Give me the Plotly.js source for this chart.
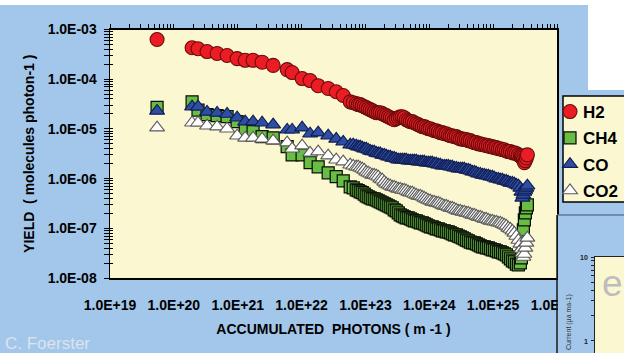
<!DOCTYPE html>
<html><head><meta charset="utf-8">
<script src="https://cdn.plot.ly/plotly-3.0.1.min.js"></script>
<style>html,body{margin:0;padding:0;background:#fff;}#chart{width:624px;height:353px;}</style>
</head><body><div id="chart"></div>
<script>
// accumulated photons (m-1), shared by all four gases
const photons = [5.46e19,1.93e20,2.39e20,3.31e20,4.75e20,6.82e20,9.79e20,1.31e21,1.74e21,2.41e21,
  3.59e21,5.95e21,7.12e21,1.02e22,1.36e22,1.82e22,2.61e22,3.49e22,4.49e22,5.78e22,
  6.44e22,7.18e22,7.71e22,8.29e22,8.91e22,9.58e22,1.029e23,1.106e23,1.189e23,1.278e23,
  1.373e23,1.476e23,1.587e23,1.706e23,1.834e23,1.971e23,2.118e23,2.277e23,2.447e23,2.631e23,
  2.828e23,3.039e23,3.267e23,3.511e23,3.774e23,4.057e23,4.360e23,4.687e23,5.037e23,5.414e23,
  5.82e23,6.26e23,6.72e23,7.23e23,7.77e23,8.35e23,8.97e23,9.64e23,1.037e24,1.114e24,
  1.198e24,1.287e24,1.384e24,1.487e24,1.599e24,1.718e24,1.847e24,1.985e24,2.134e24,2.293e24,
  2.465e24,2.650e24,2.848e24,3.061e24,3.290e24,3.537e24,3.801e24,4.086e24,4.392e24,4.720e24,
  5.074e24,5.453e24,5.861e24,6.30e24,6.77e24,7.28e24,7.82e24,8.41e24,9.04e24,9.72e24,
  1.044e25,1.123e25,1.207e25,1.297e25,1.394e25,1.498e25,1.610e25,1.731e25,1.861e25,2.000e25,
  2.149e25,2.310e25,2.483e25,2.669e25,
  2.767e25,2.869e25,2.975e25,3.083e25,3.197e25,3.314e25,3.436e25];

const yieldH2 = [6.3e-4,4.3e-4,4.1e-4,3.6e-4,3.3e-4,3.0e-4,2.6e-4,2.4e-4,2.4e-4,2.2e-4,
  1.9e-4,1.56e-4,1.36e-4,1.03e-4,9.4e-5,7.4e-5,6.5e-5,5.6e-5,4.7e-5,3.5e-5,
  3.37e-5,3.22e-5,3.08e-5,3.08e-5,2.93e-5,2.80e-5,2.68e-5,2.55e-5,2.44e-5,2.33e-5,
  2.22e-5,2.12e-5,2.12e-5,2.12e-5,2.03e-5,1.93e-5,1.85e-5,1.76e-5,1.68e-5,1.61e-5,
  1.53e-5,1.61e-5,1.68e-5,1.76e-5,1.76e-5,1.68e-5,1.53e-5,1.46e-5,1.40e-5,1.40e-5,
  1.33e-5,1.27e-5,1.22e-5,1.16e-5,1.11e-5,1.11e-5,1.06e-5,1.01e-5,1.01e-5,9.6e-6,
  9.2e-6,9.2e-6,8.8e-6,8.4e-6,8.4e-6,8.0e-6,8.0e-6,7.6e-6,7.3e-6,7.3e-6,
  7.0e-6,7.0e-6,6.6e-6,6.3e-6,6.3e-6,6.1e-6,6.1e-6,5.8e-6,5.8e-6,5.5e-6,
  5.3e-6,5.3e-6,5.0e-6,5.0e-6,4.8e-6,4.8e-6,4.6e-6,4.6e-6,4.4e-6,4.4e-6,
  4.2e-6,4.2e-6,4.0e-6,4.0e-6,3.8e-6,3.8e-6,3.6e-6,3.5e-6,3.5e-6,3.3e-6,
  3.3e-6,3.2e-6,3.0e-6,2.9e-6,
  2.75e-6,2.6e-6,2.4e-6,2.1e-6,2.3e-6,2.6e-6,3.0e-6];

const yieldCH4 = [2.7e-5,3.5e-5,2.4e-5,1.93e-5,1.85e-5,1.76e-5,1.40e-5,9.6e-6,8.8e-6,7.0e-6,
  6.6e-6,4.4e-6,3.0e-6,3.0e-6,2.1e-6,1.73e-6,1.31e-6,1.09e-6,9.0e-7,6.8e-7,
  6.5e-7,5.9e-7,5.7e-7,5.4e-7,5.2e-7,4.9e-7,4.5e-7,4.3e-7,4.1e-7,3.9e-7,
  3.9e-7,3.74e-7,3.57e-7,3.4e-7,3.25e-7,3.1e-7,2.96e-7,2.83e-7,2.7e-7,2.58e-7,
  2.35e-7,2.24e-7,2.04e-7,1.86e-7,1.78e-7,1.70e-7,1.62e-7,1.62e-7,1.55e-7,1.48e-7,
  1.41e-7,1.41e-7,1.35e-7,1.29e-7,1.29e-7,1.23e-7,1.17e-7,1.12e-7,1.07e-7,1.07e-7,
  1.02e-7,9.7e-8,9.7e-8,9.3e-8,8.9e-8,8.9e-8,8.5e-8,8.5e-8,8.1e-8,7.7e-8,
  7.4e-8,7.4e-8,7.0e-8,6.7e-8,6.4e-8,6.1e-8,5.8e-8,5.6e-8,5.3e-8,5.1e-8,
  5.1e-8,4.85e-8,4.63e-8,4.42e-8,4.22e-8,4.22e-8,4.03e-8,4.03e-8,3.84e-8,3.67e-8,
  3.67e-8,3.5e-8,3.34e-8,3.34e-8,3.19e-8,3.05e-8,2.91e-8,2.65e-8,2.42e-8,2.2e-8,
  2.1e-8,1.91e-8,1.83e-8,2.01e-8,
  2.53e-8,4.63e-8,9.3e-8,1.48e-7,2.04e-7,2.58e-7,2.96e-7];

const yieldCO = [2.3e-5,2.8e-5,2.8e-5,2.2e-5,2.1e-5,2.0e-5,1.68e-5,1.40e-5,1.40e-5,1.33e-5,
  1.22e-5,9.6e-6,9.6e-6,1.06e-5,8.0e-6,8.4e-6,7.3e-6,6.3e-6,5.5e-6,4.8e-6,
  4.8e-6,4.6e-6,4.4e-6,4.4e-6,4.2e-6,4.0e-6,4.0e-6,3.8e-6,3.6e-6,3.5e-6,
  3.5e-6,3.3e-6,3.2e-6,3.2e-6,3.0e-6,3.0e-6,2.9e-6,2.75e-6,2.75e-6,2.6e-6,
  2.6e-6,2.5e-6,2.4e-6,2.4e-6,2.4e-6,2.4e-6,2.4e-6,2.3e-6,2.3e-6,2.3e-6,
  2.3e-6,2.3e-6,2.2e-6,2.2e-6,2.2e-6,2.2e-6,2.1e-6,2.1e-6,2.1e-6,2.1e-6,
  2.0e-6,2.0e-6,1.9e-6,1.9e-6,1.81e-6,1.81e-6,1.81e-6,1.81e-6,1.73e-6,1.73e-6,
  1.65e-6,1.65e-6,1.58e-6,1.58e-6,1.58e-6,1.58e-6,1.50e-6,1.50e-6,1.44e-6,1.37e-6,
  1.37e-6,1.31e-6,1.25e-6,1.25e-6,1.19e-6,1.19e-6,1.14e-6,1.14e-6,1.09e-6,1.09e-6,
  1.04e-6,9.9e-7,9.9e-7,9.5e-7,9.5e-7,9.0e-7,9.0e-7,8.6e-7,8.2e-7,8.2e-7,
  7.9e-7,7.5e-7,7.2e-7,6.5e-7,
  5.4e-7,4.1e-7,4.7e-7,5.4e-7,5.9e-7,6.5e-7,7.2e-7];

const yieldCO2 = [1.06e-5,1.33e-5,1.33e-5,1.16e-5,1.11e-5,1.01e-5,7.3e-6,6.6e-6,6.6e-6,6.3e-6,
  5.8e-6,5.3e-6,4.0e-6,4.6e-6,3.3e-6,3.5e-6,2.9e-6,2.4e-6,2.2e-6,1.9e-6,
  1.81e-6,1.73e-6,1.73e-6,1.65e-6,1.58e-6,1.50e-6,1.37e-6,1.31e-6,1.25e-6,1.19e-6,
  1.19e-6,1.14e-6,1.09e-6,9.9e-7,9.5e-7,8.6e-7,7.9e-7,7.5e-7,7.2e-7,6.8e-7,
  6.8e-7,6.5e-7,6.2e-7,6.2e-7,5.9e-7,5.9e-7,5.7e-7,5.4e-7,5.2e-7,5.2e-7,
  4.9e-7,4.7e-7,4.5e-7,4.5e-7,4.3e-7,4.1e-7,3.9e-7,3.7e-7,3.6e-7,3.4e-7,
  3.4e-7,3.25e-7,3.25e-7,3.1e-7,2.96e-7,2.83e-7,2.83e-7,2.7e-7,2.58e-7,2.58e-7,
  2.46e-7,2.35e-7,2.24e-7,2.24e-7,2.14e-7,2.14e-7,2.04e-7,2.04e-7,1.95e-7,1.86e-7,
  1.86e-7,1.78e-7,1.70e-7,1.70e-7,1.62e-7,1.55e-7,1.55e-7,1.48e-7,1.41e-7,1.41e-7,
  1.35e-7,1.35e-7,1.29e-7,1.29e-7,1.23e-7,1.17e-7,1.12e-7,1.02e-7,9.7e-8,8.9e-8,
  8.1e-8,7.0e-8,5.8e-8,4.85e-8,
  3.84e-8,3.19e-8,2.65e-8,3.05e-8,4.03e-8,5.08e-8,6.41e-8];

const seriesNames = ['H2','CH4','CO','CO2'];
const xTickLabels = ['1.0E+19','1.0E+20','1.0E+21','1.0E+22','1.0E+23','1.0E+24','1.0E+25','1.0E+26'];
const yTickLabels = ['1.0E-08','1.0E-07','1.0E-06','1.0E-05','1.0E-04','1.0E-03'];
const insetTickLabels = ['1','10'];

const W = 624, H = 353;
const X = px => px / W;
const Y = py => 1 - py / H;
const FONT = 'Liberation Sans, Arial, sans-serif';
const BLUE = '#A3C7EA';
const CREAM = '#FBF8D1';

function logTicks(k0, k1, labels) {
  const vals = [], text = [];
  for (let k = k0; k < k1; k++) {
    for (let d = 1; d <= 9; d++) {
      vals.push(d * Math.pow(10, k));
      text.push(d === 1 ? labels[k - k0] : '');
    }
  }
  vals.push(Math.pow(10, k1));
  text.push(labels[labels.length - 1]);
  return {vals, text};
}
const xt = logTicks(19, 26, xTickLabels);
const yt = logTicks(-8, -3, yTickLabels);
const it = logTicks(0, 1, insetTickLabels);
const xDecades = xt.vals.filter((v, i) => xt.text[i] !== '');
const xDecText = xt.text.filter(t => t !== '');

const tickFont = {family: FONT, size: 14, color: '#000', weight: 'bold'};

const traces = [
  {name: seriesNames[1], x: photons, y: yieldCH4, legendrank: 2, legendgroup: 'g2',
   marker: {symbol: 'square', size: 12, color: '#69BD45', line: {color: '#0A0F07', width: 1.25}}},
  {name: seriesNames[3], x: photons, y: yieldCO2, legendrank: 4, legendgroup: 'g4',
   marker: {symbol: 'triangle-up', size: 13, color: '#FFFFFF', line: {color: '#5A5A5A', width: 1.1}}},
  {name: seriesNames[2], x: photons, y: yieldCO, legendrank: 3, legendgroup: 'g3',
   marker: {symbol: 'triangle-up', size: 13, color: '#2D4EA2', line: {color: '#111C50', width: 1.1}}},
  {name: seriesNames[0], x: photons, y: yieldH2, legendrank: 1, legendgroup: 'g1',
   marker: {symbol: 'circle', size: 14, color: '#EC1C24', line: {color: '#6A0C0C', width: 1.1}}}
].map(t => Object.assign({type: 'scatter', mode: 'markers', xaxis: 'x', yaxis: 'y', hoverinfo: 'skip'}, t));

// empty traces that only register the overlay / inset axes
traces.push({type: 'scatter', mode: 'markers', x: [], y: [], xaxis: 'x3', yaxis: 'y', showlegend: false, hoverinfo: 'skip'});
traces.push({type: 'scatter', mode: 'markers', x: [], y: [], xaxis: 'x', yaxis: 'y4', showlegend: false, hoverinfo: 'skip'});
traces.push({type: 'scatter', mode: 'markers', x: [], y: [], xaxis: 'x2', yaxis: 'y2', showlegend: false, hoverinfo: 'skip'});

const layout = {
  width: W, height: H,
  margin: {l: 0, r: 0, t: 0, b: 0, autoexpand: false},
  paper_bgcolor: BLUE, plot_bgcolor: CREAM,
  showlegend: true,
  font: {family: FONT, color: '#000'},
  xaxis: {
    type: 'log', range: [19, 26], domain: [X(110), X(557)], anchor: 'y',
    showline: true, linecolor: '#000', linewidth: 1.5, mirror: true,
    ticks: '', tickmode: 'array', tickvals: xDecades, ticktext: xDecText,
    tickfont: tickFont, ticklabelstandoff: 14,
    showgrid: false, zeroline: false, automargin: false,
    title: {text: 'ACCUMULATED\u00A0 PHOTONS ( m -1 )', font: {family: FONT, size: 14, weight: 'bold', color: '#000'}, standoff: 12}
  },
  xaxis3: {
    type: 'log', range: [19, 26], overlaying: 'x', side: 'top', anchor: 'y',
    ticks: 'outside', ticklen: 5, tickwidth: 1, tickcolor: '#000',
    tickmode: 'array', tickvals: xt.vals, showticklabels: false,
    showline: false, showgrid: false, zeroline: false, automargin: false
  },
  yaxis: {
    type: 'log', range: [-8, -3], domain: [Y(278), Y(29.5)], anchor: 'x',
    showline: true, linecolor: '#000', linewidth: 1.5, mirror: true,
    ticks: 'outside', ticklen: 5, tickwidth: 1, tickcolor: '#000',
    tickmode: 'array', tickvals: yt.vals, ticktext: yt.text,
    tickfont: tickFont, ticklabelstandoff: 4,
    showgrid: false, zeroline: false, automargin: false,
    title: {text: 'YIELD\u00A0 ( molecules photon-1 )', font: {family: FONT, size: 14, weight: 'bold', color: '#000'}, standoff: 10}
  },
  yaxis4: {
    type: 'log', range: [-8, -3], overlaying: 'y', side: 'left', anchor: 'x',
    ticks: 'inside', ticklen: 3, tickwidth: 1, tickcolor: '#000',
    tickmode: 'array', tickvals: yt.vals, showticklabels: false,
    showline: false, showgrid: false, zeroline: false, automargin: false
  },
  xaxis2: {
    domain: [X(595), 1], anchor: 'y2', side: 'top', range: [0, 1],
    showline: true, linecolor: '#222', linewidth: 1, ticks: '', showticklabels: false,
    showgrid: false, zeroline: false, automargin: false
  },
  yaxis2: {
    type: 'log', domain: [0, Y(257)], anchor: 'x2', range: [-0.143, 1],
    showline: true, linecolor: '#222', linewidth: 1,
    ticks: 'outside', ticklen: 3, tickwidth: 1, tickcolor: '#222',
    tickmode: 'array', tickvals: it.vals, showticklabels: false,
    showgrid: false, zeroline: false, automargin: false
  },
  legend: {
    x: X(550), xanchor: 'left', y: Y(94), yanchor: 'top',
    bgcolor: 'rgba(0,0,0,0)', borderwidth: 0,
    font: {family: FONT, size: 17, weight: 'bold', color: '#000'},
    traceorder: 'grouped', tracegroupgap: 1.2
  },
  shapes: [
    {type: 'rect', xref: 'paper', yref: 'paper', x0: 0, x1: 1, y0: Y(5), y1: 1, fillcolor: '#FFFFFF', line: {width: 0}, layer: 'below'},
    {type: 'rect', xref: 'paper', yref: 'paper', x0: X(588), x1: 1, y0: Y(90), y1: Y(5), fillcolor: '#FFFFFF', line: {width: 0}, layer: 'below'},
    {type: 'rect', xref: 'paper', yref: 'paper', x0: X(558), x1: X(588), y0: 0, y1: Y(215), fillcolor: BLUE, line: {width: 0}, layer: 'above'},
    {type: 'line', xref: 'paper', yref: 'paper', x0: X(557), x1: 1, y0: Y(215), y1: Y(215), line: {color: '#5E7C9B', width: 1.5}, layer: 'above'},
    {type: 'line', xref: 'paper', yref: 'paper', x0: X(557), x1: X(557), y0: 0, y1: Y(215), line: {color: '#1A1A1A', width: 1.5}, layer: 'above'},
    {type: 'rect', xref: 'paper', yref: 'paper', x0: X(563), x1: X(630), y0: Y(202), y1: Y(96), fillcolor: CREAM, line: {color: '#000', width: 1.5}, layer: 'above'}
  ],
  annotations: [
    {text: 'C. Foerster', xref: 'paper', yref: 'paper', x: X(3), y: Y(343), xanchor: 'left', yanchor: 'middle', showarrow: false,
     font: {family: FONT, size: 17, color: '#DCE3EC'}},
    {text: insetTickLabels[1], xref: 'paper', yref: 'paper', x: X(590), y: Y(257), xanchor: 'right', yanchor: 'middle', showarrow: false,
     font: {family: FONT, size: 7, weight: 'bold', color: '#222'}},
    {text: insetTickLabels[0], xref: 'paper', yref: 'paper', x: X(590), y: Y(341), xanchor: 'right', yanchor: 'middle', showarrow: false,
     font: {family: FONT, size: 7, weight: 'bold', color: '#222'}},
    {text: 'Current (\u00B5a ma-1)', xref: 'paper', yref: 'paper', x: X(569), y: Y(322), xanchor: 'center', yanchor: 'middle', showarrow: false,
     textangle: -90, font: {family: FONT, size: 7, color: '#333'}},
    {text: 'e', xref: 'paper', yref: 'paper', x: X(612), y: Y(283), xanchor: 'center', yanchor: 'middle', showarrow: false,
     font: {family: FONT, size: 37, color: '#BDBDBD'}}
  ]
};

Plotly.newPlot('chart', traces, layout, {staticPlot: true, displayModeBar: false}).then(gd => {
  // tighten the gap between legend symbol and legend text
  gd.querySelectorAll('.legendtext').forEach(t => {
    const x = parseFloat(t.getAttribute('x')) || 40;
    t.setAttribute('x', x - 7);
  });
});
</script>
</body></html>
